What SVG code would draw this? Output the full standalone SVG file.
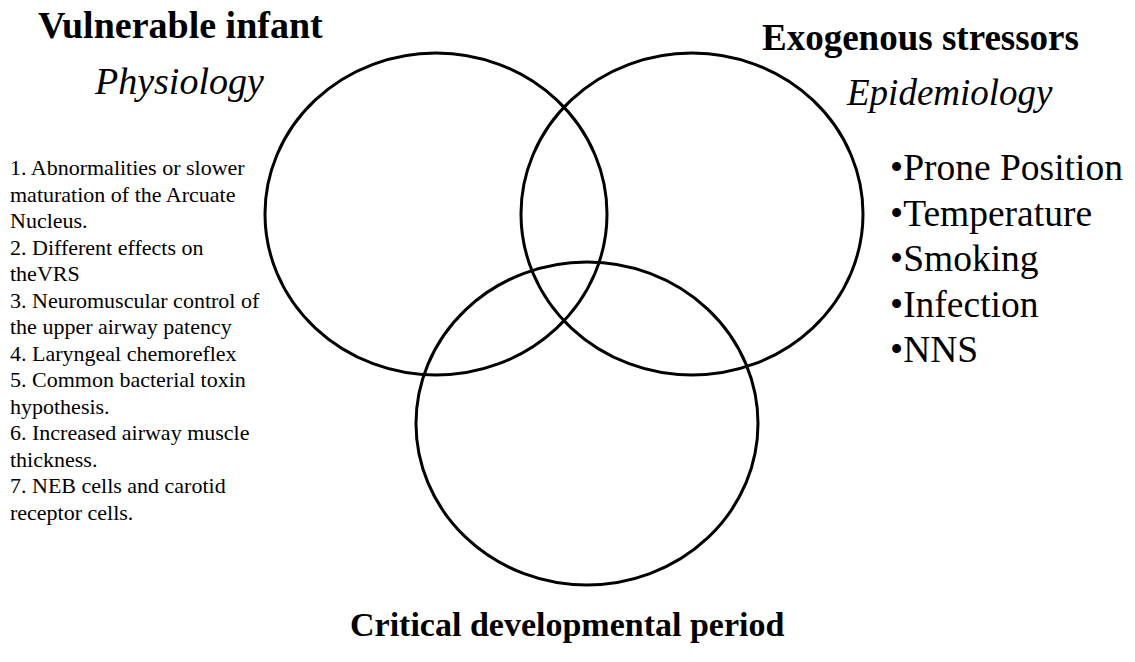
<svg xmlns="http://www.w3.org/2000/svg" width="1135" height="662" viewBox="0 0 1135 662">
<style>
.c{fill:none;stroke:#000;stroke-width:3}
text{font-family:'Liberation Serif',serif;fill:#000}
.h{font-weight:bold;font-size:37px}
.h1{font-weight:bold;font-size:38px}
.h3{font-weight:bold;font-size:34px}
.i{font-style:italic;font-size:37px}
.i1{font-style:italic;font-size:38px}
.l{font-size:22px}
.r{font-size:37.5px}
</style>
<rect width="1135" height="662" fill="#fff"/>
<g id="vulnerable-infant">
<ellipse class="c" cx="436" cy="214" rx="171" ry="161"/>
<text class="h1" x="38" y="38">Vulnerable infant</text>
<text class="i1" x="95" y="94">Physiology</text>
<text class="l" x="10" y="175"><tspan x="10" dy="0">1. Abnormalities or slower</tspan><tspan x="10" dy="26.5">maturation of the Arcuate</tspan><tspan x="10" dy="26.5">Nucleus.</tspan><tspan x="10" dy="26.5">2. Different effects on</tspan><tspan x="10" dy="26.5">theVRS</tspan><tspan x="10" dy="26.5">3. Neuromuscular control of</tspan><tspan x="10" dy="26.5">the upper airway  patency</tspan><tspan x="10" dy="26.5">4. Laryngeal chemoreflex</tspan><tspan x="10" dy="26.5">5. Common bacterial toxin</tspan><tspan x="10" dy="26.5">hypothesis.</tspan><tspan x="10" dy="26.5">6. Increased airway muscle</tspan><tspan x="10" dy="26.5">thickness.</tspan><tspan x="10" dy="26.5">7. NEB cells and carotid</tspan><tspan x="10" dy="26.5">receptor cells.</tspan></text>
</g>
<g id="exogenous-stressors">
<ellipse class="c" cx="692" cy="214" rx="171" ry="161"/>
<text class="h" x="762" y="50">Exogenous stressors</text>
<text class="i" x="847" y="105">Epidemiology</text>
<text class="r" x="890" y="180"><tspan x="890" dy="0">•Prone Position</tspan><tspan x="890" dy="45.5">•Temperature</tspan><tspan x="890" dy="45.5">•Smoking</tspan><tspan x="890" dy="45.5">•Infection</tspan><tspan x="890" dy="45.5">•NNS</tspan></text>
</g>
<g id="critical-period">
<ellipse class="c" cx="587" cy="423.5" rx="171" ry="161.5"/>
<text class="h3" x="350" y="636">Critical developmental period</text>
</g>
<g id="connectors"/>
</svg>
